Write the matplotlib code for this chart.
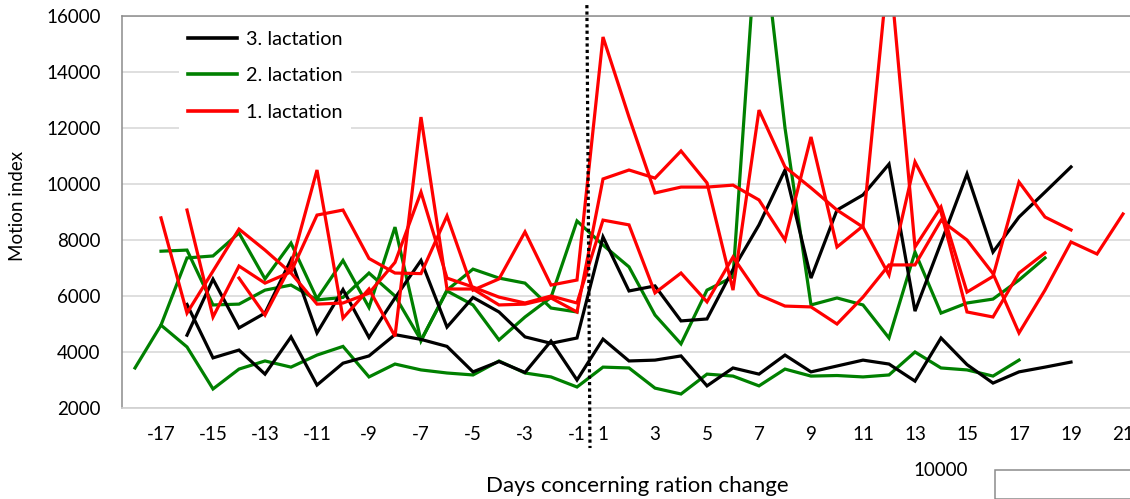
import numpy as np
import matplotlib
matplotlib.use("Agg")
import matplotlib.pyplot as plt
from matplotlib.lines import Line2D
from matplotlib.patches import Rectangle

plt.rcParams['font.family'] = ['Lato', 'DejaVu Sans']

N = None
days = list(range(-18, 0)) + list(range(1, 22))
tick_days = list(range(-17, 0, 2)) + list(range(1, 22, 2))

# 3. lactation (black)
black_a = [N, N, 4600, 6600, 4860, 5390, 7300, 4680, 6230, 4520, 5930, 7270, 4890, 5950, 5430, 4540, 4310, 4500,
           8110, 6180, 6360, 5110, 5180, 6950, 8540, 10500, 6640, 9070, 9610, 10710, 5460, 7900, 10360, 7570, 8820, 9710, 10610, N, N]
black_b = [N, N, 5700, 3790, 4070, 3210, 4540, 2820, 3600, 3860, 4620, 4450, 4200, 3290, 3660, 3270, 4390, 3000,
           4460, 3680, 3710, 3860, 2790, 3430, 3210, 3890, 3290, 3500, 3710, 3570, 2960, 4500, 3550, 2890, 3290, 3460, 3640, N, N]

# 2. lactation (green)
green_a = [3430, 4960, 4180, 2680, 3390, 3680, 3460, 3890, 4200, 3110, 3570, 3360, 3250, 3180, 3680, 3250, 3110, 2750,
           3460, 3430, 2710, 2500, 3210, 3140, 2790, 3390, 3140, 3160, 3110, 3180, 4000, 3430, 3360, 3140, 3710, N, N, N, N]
green_b = [N, 4960, 7360, 7430, 8250, 6610, 7890, 5900, 7270, 5590, 8460, 4400, 6210, 6960, 6640, 6460, 5570, 5430,
           N, N, N, N, N, N, N, N, N, N, N, N, N, N, N, N, N, N, N, N, N]
green_c = [N, 7600, 7640, 5680, 5710, 6210, 6390, 5860, 5950, 6820, 6000, 4420, 6180, 5680, 4430, 5250, 5950, 8680,
           7820, 7040, 5320, 4290, 6210, 6680, 20100, 12000, 5680, 5930, 5680, 4500, 7570, 5390, 5750, 5890, 6570, 7360, N, N, N]

# 1. lactation (red)
red_a = [N, 8790, 5390, 6890, 8390, 7640, 6820, 5710, 5750, 6100, 7200, 9710, 6640, 6320, 5960, 5750, 6000, 5750,
         8710, 8540, 6110, 6820, 5790, 7390, 6040, 5640, 5610, 5000, 5960, 7110, 7110, 8700, 8000, 6800, 4680, 6210, 7930, 7500, 8930]
red_b = [N, N, 9070, 5250, 7070, 6460, 6860, 8890, 9070, 7340, 6820, 6800, 8860, 6210, 6610, 8290, 6390, 6570,
         15250, 12390, 9680, 9890, 9890, 9960, 9430, 8000, 11680, 7750, 8500, 18000, 7750, 9180, 6140, 6700, 10070, 8820, 8360, N, N]
red_c = [N, N, N, N, 6640, 5320, 7100, 10500, 5210, 6250, 4560, 12390, 6250, 6250, 5680, 5710, 5930, 5430,
         10180, 10500, 10210, 11180, 10040, 6210, 12640, 10610, 9860, 9070, 8460, 6750, 10790, 9000, 5430, 5250, 6820, 7540, N, N, N]

labels = ["3. lactation", "2. lactation", "1. lactation"]
colors = ["#000000", "#008000", "#FF0000"]

def arr(v):
    return np.array([np.nan if x is None else x for x in v], dtype=float)

W, H = 1130, 499
fig = plt.figure(figsize=(W / 100, H / 100), dpi=100)
ax = fig.add_axes([122 / W, 91 / H, 1014 / W, 392 / H])

pos = np.arange(len(days))
lw = 2.3
for s in (green_a, green_b, green_c):
    ax.plot(pos, arr(s), color=colors[1], lw=lw, solid_joinstyle='miter')
for s in (black_a, black_b):
    ax.plot(pos, arr(s), color=colors[0], lw=lw, solid_joinstyle='miter')
for s in (red_a, red_b, red_c):
    ax.plot(pos, arr(s), color=colors[2], lw=lw, solid_joinstyle='miter')

ax.set_xlim(-0.5, len(days) - 0.5)
ax.set_ylim(2000, 16000)
ax.set_yticks(range(2000, 16001, 2000))
ax.set_yticklabels([str(v) for v in range(2000, 16001, 2000)])
ax.set_xticks([days.index(d) for d in tick_days])
ax.set_xticklabels([str(d) for d in tick_days])
ax.tick_params(axis='both', length=0, labelsize=13.5, colors='#000000')
ax.tick_params(axis='y', pad=15.5)
ax.tick_params(axis='x', pad=13)
ax.yaxis.grid(True, color='#D9D9D9', lw=1.2)
ax.set_axisbelow(True)
ax.spines['right'].set_visible(False)
ax.spines['left'].set_color('#8C8C8C')
ax.spines['left'].set_linewidth(1.1)
ax.spines['top'].set_color('#8C8C8C')
ax.spines['top'].set_linewidth(1.1)
ax.spines['bottom'].set_color('#D0D0D0')
ax.spines['bottom'].set_linewidth(1.2)

# dotted separator at the ration change
ax.plot([17.38, 17.5], [16390, 570], color='black', lw=2.3, ls=(0, (1, 1)), clip_on=False, zorder=6)

handles = [Line2D([0], [0], color=c, lw=2.6) for c in colors]
leg = ax.legend(handles, labels, loc='upper left', bbox_to_anchor=(179 / W, 1 - 22 / H),
                bbox_transform=fig.transFigure, frameon=True, facecolor='white', edgecolor='none',
                framealpha=1, fancybox=False, fontsize=14.3, handlelength=2.45, handletextpad=0.45,
                labelspacing=0.98, borderpad=0.45, borderaxespad=0)
leg.get_frame().set_linewidth(0)
for lh in leg.get_lines():
    lh.set_linewidth(2.6)
leg.set_zorder(5)
leg.get_frame().set_boxstyle('square', pad=0)

fig.text(18 / W, 1 - 206 / H, "Motion index", rotation=90, ha='center', va='center', fontsize=13.5)
fig.text(637 / W, 1 - 486 / H, "Days concerning ration change", ha='center', va='center', fontsize=16)
fig.text(941 / W, 1 - 470 / H, "10000", ha='center', va='center', fontsize=13.5)
fig.patches.append(Rectangle((995 / W, 0), 200 / W, (499 - 470) / H, transform=fig.transFigure,
                             fill=False, edgecolor='#8C8C8C', lw=1.1, clip_on=False))

fig.savefig("out.png", dpi=100)
